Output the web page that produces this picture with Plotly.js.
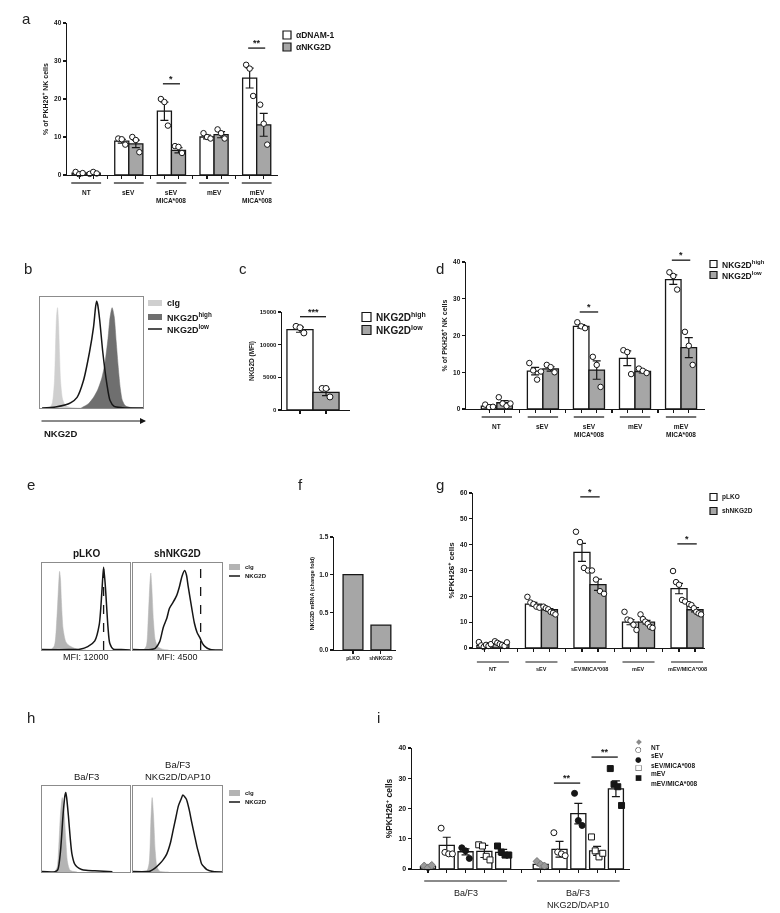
<!DOCTYPE html>
<html>
<head>
<meta charset="utf-8">
<script src="https://cdn.plot.ly/plotly-3.0.1.min.js"></script>
<style>
  body { margin: 0; background: #fff; }
  #fig { width: 780px; height: 913px; will-change: transform; }
</style>
</head>
<body>
<div id="fig"></div>
<script>
// ---------- data ----------
let groupNames = ['NT', 'sEV', 'sEV<br>MICA*008', 'mEV', 'mEV<br>MICA*008'];
let groupNamesG = ['NT', 'sEV', 'sEV/MICA*008', 'mEV', 'mEV/MICA*008'];

// a: blocking antibodies
let a_dnam_mean = [0.5, 8.9, 16.8, 10.0, 25.5];
let a_dnam_sem = [0.2, 0.5, 2.4, 0.5, 2.6];
let a_dnam_pts = [[0.8, 0.2, 0.5], [9.6, 9.4, 8.0], [20.0, 19.2, 13.0], [11.0, 10.0, 9.6], [29.0, 28.0, 20.8]];
let a_nkg_mean = [0.5, 8.2, 6.5, 10.6, 13.2];
let a_nkg_sem = [0.2, 1.0, 0.7, 0.8, 3.0];
let a_nkg_pts = [[0.3, 0.8, 0.4], [10.0, 9.2, 6.0], [7.6, 7.4, 5.8], [12.0, 11.0, 9.6], [18.5, 13.5, 8.0]];
let a_sig_group = [2, 4];
let a_sig_y = [24, 33.4];
let a_sig_label = ['*', '**'];

// b: histograms (x = fluorescence channel 0-100, y = % of max)
let b_cig_x = [5, 10, 12, 14, 15, 16, 17, 18, 19, 20, 22, 25, 30, 40];
let b_cig_y = [0, 1, 5, 25, 55, 85, 94, 80, 50, 25, 8, 2, 0.5, 0];
let b_high_x = [40, 47, 52, 56, 60, 63, 66, 68, 70, 72, 74, 76, 78, 80, 83, 88, 100];
let b_high_y = [0, 4, 10, 17, 28, 42, 65, 85, 94, 86, 62, 38, 18, 7, 2, 0.5, 0];
let b_low_x = [2, 15, 25, 30, 36, 42, 48, 52, 54, 55, 56, 58, 61, 65, 68, 72, 80, 100];
let b_low_y = [0, 1, 3, 5, 10, 25, 52, 76, 95, 100, 97, 82, 52, 22, 7, 1.5, 0.3, 0];

// c: NKG2D MFI
let c_mean = [12300, 2700];
let c_sem = [400, 500];
let c_pts = [[12800, 12600, 11800], [3300, 3300, 2000]];

// d: NKG2D high / low
let d_high_mean = [0.8, 10.3, 22.5, 13.8, 35.2];
let d_high_sem = [0.3, 1.0, 0.5, 2.0, 1.3];
let d_high_pts = [[1.2, 0.5, 0.6], [12.5, 10.5, 8.0, 10.2], [23.6, 22.5, 22.0], [16.0, 15.5, 9.5], [37.2, 36.2, 32.5]];
let d_low_mean = [1.7, 10.9, 10.6, 10.2, 16.7];
let d_low_sem = [0.6, 0.6, 2.5, 0.4, 2.7];
let d_low_pts = [[3.2, 1.5, 0.8, 1.5], [12.0, 11.4, 10.0], [14.2, 12.0, 6.0], [11.0, 10.4, 9.8], [21.0, 17.2, 12.0]];
let d_sig_group = [2, 4];
let d_sig_y = [26.4, 40.5];

// e: pLKO / shNKG2D histograms
let e1_cig_x = [0, 10, 14, 17, 19, 20, 21, 22, 24, 27, 30, 35, 40, 50];
let e1_cig_y = [0, 0.5, 5, 40, 80, 94, 85, 60, 25, 10, 6, 3, 1, 0];
let e1_nk_x = [0, 30, 43, 52, 60, 65, 68, 70, 72, 75, 77, 81, 90, 100];
let e1_nk_y = [0.5, 0.5, 1, 4, 11, 30, 69, 99, 76, 27, 8, 1, 0.5, 0];
let e2_cig_x = [0, 12, 15, 17, 19, 20, 21, 23, 25, 28, 33, 40];
let e2_cig_y = [0, 0.5, 5, 35, 80, 92, 78, 35, 12, 4, 1, 0];
let e2_nk_x = [0, 20, 25, 30, 34, 38, 41, 45, 49, 52, 55, 58, 60, 62, 66, 69, 72, 75, 78, 81, 87, 100];
let e2_nk_y = [0.5, 0.5, 2, 10, 27, 38, 50, 57, 65, 75, 88, 95, 90, 76, 50, 32, 21, 15, 8, 4, 0.5, 0];
let e_mfi_pos = [70, 76];
let e_titles = ['pLKO', 'shNKG2D'];
let e_mfi = ['MFI: 12000', 'MFI: 4500'];

// f: mRNA
let f_cats = ['pLKO', 'shNKG2D'];
let f_vals = [1.0, 0.33];

// g: pLKO / shNKG2D uptake
let g_plko_mean = [1.0, 17.0, 37.0, 10.0, 23.0];
let g_plko_sem = [0.3, 0.7, 3.5, 1.0, 2.0];
let g_plko_pts = [[2.3, 1.0, 0.4, 1.2, 0.8, 1.5], [19.8, 17.6, 17.0, 16.0, 15.6], [45.0, 41.0, 31.0, 30.0], [14.0, 11.0, 10.6, 9.0, 7.0], [29.8, 25.5, 24.5, 18.6, 18.0]];
let g_sh_mean = [1.5, 14.8, 24.5, 10.0, 14.8];
let g_sh_sem = [0.3, 0.5, 2.2, 0.7, 0.8];
let g_sh_pts = [[2.6, 2.0, 1.5, 1.2, 0.8, 2.2], [16.0, 15.4, 15.0, 14.0, 13.6, 13.0], [30.0, 26.5, 22.0, 21.0], [13.0, 11.2, 10.2, 9.4, 8.2, 7.8], [17.0, 16.6, 15.4, 14.0, 13.4, 13.0]];
let g_sig_group = [2, 4];
let g_sig_y = [58.5, 40.3];

// h: Ba/F3 histograms
let h1_cig_x = [0, 14, 17, 19, 21, 23, 25, 27, 29, 32, 40];
let h1_cig_y = [0, 0.5, 5, 30, 70, 90, 75, 40, 12, 2, 0];
let h1_nk_x = [0, 15, 18, 21, 24, 26, 27, 28, 30, 32, 34, 37, 40, 45, 50, 60, 70, 80];
let h1_nk_y = [0.5, 0.5, 3, 25, 70, 92, 96, 90, 68, 42, 22, 10, 6, 3, 2, 1.5, 1, 0.3];
let h2_cig_x = [0, 15, 18, 20, 21.5, 23, 25, 27, 30, 40];
let h2_cig_y = [0, 0.5, 10, 60, 90, 70, 25, 6, 1, 0];
let h2_nk_x = [0, 15, 19, 24, 30, 34, 38, 42, 45, 48, 51, 54, 56, 58, 60, 63, 66, 69, 72, 75, 77, 80, 83, 90, 100];
let h2_nk_y = [0.5, 0.5, 1, 4, 10, 15, 22, 35, 50, 65, 80, 88, 93, 91, 88, 76, 60, 45, 30, 18, 10, 6, 3, 0.5, 0];
let h_titles = ['Ba/F3', 'Ba/F3<br>NKG2D/DAP10'];

// i: Ba/F3 vs Ba/F3 NKG2D/DAP10
let i_conds = ['NT', 'sEV', 'sEV/MICA*008', 'mEV', 'mEV/MICA*008'];
let i_cells = ['Ba/F3', 'Ba/F3<br>NKG2D/DAP10'];
let i_baf3_mean = [0.8, 7.8, 5.7, 5.8, 5.5];
let i_baf3_sem = [0.3, 2.7, 1.0, 2.0, 1.0];
let i_baf3_pts = [[1.0, 0.4, 1.2], [13.5, 5.5, 5.0, 5.0], [7.0, 6.0, 3.5], [8.0, 7.6, 4.2, 3.0], [7.6, 5.6, 4.6, 4.6]];
let i_dap_mean = [1.5, 6.5, 18.3, 6.0, 26.5];
let i_dap_sem = [0.4, 2.6, 3.4, 1.5, 2.6];
let i_dap_pts = [[2.5, 1.5, 1.0], [12.0, 5.6, 5.0, 4.4], [25.0, 16.0, 14.4], [10.6, 6.0, 4.0, 5.2], [33.2, 28.0, 27.2, 21.0]];
let i_sig_pairs = [[7, 8], [9, 10]];
let i_sig_y = [28.4, 37.0];

// ---------- drawing ----------
let W = 780, H = 913;
let FONT = 'Liberation Sans, Arial, sans-serif';
let INK = '#161616';
let GRAY = '#a6a6a6';
let traces = [];
let shapes = [];
let annotations = [];
let layout = {
    width: W, height: H,
    margin: {l: 0, r: 0, t: 0, b: 0},
    showlegend: false,
    barmode: 'overlay',
    paper_bgcolor: '#fff',
    plot_bgcolor: 'rgba(0,0,0,0)',
    font: {family: FONT, color: INK}
};

function sfx(n) { return n === 1 ? '' : String(n); }
function px(x) { return x / W; }
function py(y) { return 1 - y / H; }

// box = [left, right, top, bottom] in pixels
function barAxes(n, box, xRange, xTicks, yRange, yStep, yTitle, tickSize, titleSize, extra) {
    let s = sfx(n);
    let yv = [];
    for (let v = yRange[0]; v <= yRange[1] + 1e-9; v += yStep) yv.push(v);
    layout['xaxis' + s] = Object.assign({
        domain: [px(box[0]), px(box[1])], anchor: 'y' + s, range: xRange,
        showline: true, linecolor: INK, linewidth: 1.4,
        ticks: 'outside', ticklen: 3, tickwidth: 1.1, tickcolor: INK,
        tickvals: xTicks, showticklabels: false, showgrid: false, zeroline: false
    }, (extra && extra.x) || {});
    layout['yaxis' + s] = Object.assign({
        domain: [py(box[3]), py(box[2])], anchor: 'x' + s, range: yRange,
        showline: true, linecolor: INK, linewidth: 1.4,
        ticks: 'outside', ticklen: 3, tickwidth: 1.1, tickcolor: INK,
        tickvals: yv, tickfont: {size: tickSize, weight: 'bold'},
        showgrid: false, zeroline: false,
        title: {text: yTitle, font: {size: titleSize, weight: 'bold'}, standoff: 4}
    }, (extra && extra.y) || {});
}

function addDots(n, xs, pts, barW, sty) {
    let s = sfx(n);
    let dx = [], dy = [];
    pts.forEach(function (p, i) {
        let step = Math.min(barW * 0.25, barW * 0.75 / Math.max(p.length - 1, 1));
        p.forEach(function (v, j) {
            dx.push(xs[i] + (j - (p.length - 1) / 2) * step);
            dy.push(v);
        });
    });
    traces.push({
        type: 'scatter', mode: 'markers', x: dx, y: dy, xaxis: 'x' + s, yaxis: 'y' + s,
        marker: {symbol: sty.symbol, size: sty.size || 5.5, color: sty.color, line: {color: sty.line || INK, width: 1}},
        cliponaxis: false, hoverinfo: 'skip'
    });
}

function bars(n, xs, mean, sem, fill, barW) {
    let s = sfx(n);
    traces.push({
        type: 'bar', x: xs, y: mean, width: barW, xaxis: 'x' + s, yaxis: 'y' + s,
        marker: {color: fill, line: {color: INK, width: 1.3}},
        error_y: sem ? {type: 'data', array: sem, color: INK, thickness: 1.2, width: 4} : {visible: false},
        hoverinfo: 'skip'
    });
}

function groupedBars(n, series, barW) {
    series.forEach(function (ser, k) {
        let off = (k - (series.length - 1) / 2) * barW;
        let xs = ser.mean.map(function (v, i) { return i + off; });
        bars(n, xs, ser.mean, ser.sem, ser.fill, barW);
        addDots(n, xs, ser.pts, barW, {symbol: 'circle', color: '#fff'});
    });
}

function groupTicks(count, barW) {
    let t = [];
    for (let i = 0; i < count; i++) {
        t.push(i - barW / 2, i + barW / 2);
        if (i < count - 1) t.push(i + 0.5);
    }
    return t;
}

function sigMark(n, x0, x1, yv, ymax, label, size) {
    let s = sfx(n);
    let f = yv / ymax;
    shapes.push({type: 'line', xref: 'x' + s, yref: 'y' + s + ' domain', x0: x0, x1: x1, y0: f, y1: f,
        line: {color: INK, width: 1.3}});
    annotations.push({xref: 'x' + s, yref: 'y' + s + ' domain', x: (x0 + x1) / 2, y: f, yanchor: 'bottom',
        text: label, showarrow: false, yshift: -2, font: {size: size || 9, weight: 'bold'}});
}

function groupLabels(n, hPx, centers, labels, half, lineDy, textDy, size, weight) {
    let s = sfx(n);
    centers.forEach(function (c, i) {
        shapes.push({type: 'line', xref: 'x' + s, yref: 'y' + s + ' domain', x0: c - half, x1: c + half,
            y0: -lineDy / hPx, y1: -lineDy / hPx, line: {color: INK, width: 1.2}});
        annotations.push({xref: 'x' + s, yref: 'y' + s + ' domain', x: c, y: -textDy / hPx, yanchor: 'top',
            text: labels[i], showarrow: false, font: {size: size, weight: weight || 'bold'}});
    });
}

function histAxes(n, box) {
    let s = sfx(n);
    let common = {showline: true, mirror: true, linecolor: '#8c8c8c', linewidth: 1,
        showticklabels: false, ticks: '', showgrid: false, zeroline: false};
    layout['xaxis' + s] = Object.assign({domain: [px(box[0]), px(box[1])], anchor: 'y' + s, range: [0, 100]}, common);
    layout['yaxis' + s] = Object.assign({domain: [py(box[3]), py(box[2])], anchor: 'x' + s, range: [0, 104]}, common);
}

function histFill(n, x, y, color) {
    let s = sfx(n);
    traces.push({type: 'scatter', mode: 'lines', x: x, y: y, xaxis: 'x' + s, yaxis: 'y' + s,
        fill: 'tozeroy', fillcolor: color, line: {color: color, width: 0.5, shape: 'spline', smoothing: 0.7},
        hoverinfo: 'skip'});
}

function histLine(n, x, y) {
    let s = sfx(n);
    traces.push({type: 'scatter', mode: 'lines', x: x, y: y, xaxis: 'x' + s, yaxis: 'y' + s,
        line: {color: INK, width: 1.5, shape: 'spline', smoothing: 0.7}, hoverinfo: 'skip'});
}

function legendBox(x, y, size, fill) {
    shapes.push({type: 'rect', xref: 'paper', yref: 'paper', x0: px(x), x1: px(x + size),
        y0: py(y + size / 2), y1: py(y - size / 2), fillcolor: fill, line: {color: INK, width: 1.2}});
}
function legendSwatch(x, y, w, h, fill) {
    shapes.push({type: 'rect', xref: 'paper', yref: 'paper', x0: px(x), x1: px(x + w),
        y0: py(y + h / 2), y1: py(y - h / 2), fillcolor: fill, line: {width: 0}});
}
function legendLine(x, y, w) {
    shapes.push({type: 'line', xref: 'paper', yref: 'paper', x0: px(x), x1: px(x + w),
        y0: py(y), y1: py(y), line: {color: INK, width: 1.5}});
}
function text(x, y, str, size, opts) {
    annotations.push(Object.assign({xref: 'paper', yref: 'paper', x: px(x), y: py(y), xanchor: 'left', yanchor: 'middle',
        text: str, showarrow: false, borderpad: 0, font: {size: size, weight: 'bold'}}, opts || {}));
}

// ---- panel a ----
let aW = 0.33;
barAxes(1, [67, 278, 23, 175], [-0.45, 4.5], groupTicks(5, aW), [0, 40], 10,
    '% of PKH26<sup>+</sup> NK cells', 6.5, 7);
groupedBars(1, [
    {mean: a_dnam_mean, sem: a_dnam_sem, pts: a_dnam_pts, fill: '#fff'},
    {mean: a_nkg_mean, sem: a_nkg_sem, pts: a_nkg_pts, fill: GRAY}
], aW);
a_sig_group.forEach(function (g, k) { sigMark(1, g - 0.2, g + 0.2, a_sig_y[k], 40, a_sig_label[k]); });
groupLabels(1, 152, [0, 1, 2, 3, 4], groupNames, 0.35, 8, 12, 6.5);
legendBox(283, 35, 8, '#fff');
legendBox(283, 47, 8, GRAY);
text(295, 35, 'αDNAM-1', 8.5);
text(295, 47, 'αNKG2D', 8.5);

// ---- panel b ----
histAxes(2, [40, 143, 297, 408]);
histFill(2, b_cig_x, b_cig_y, '#cfcfcf');
histFill(2, b_high_x, b_high_y, '#6f6f6f');
histLine(2, b_low_x, b_low_y);
legendSwatch(148, 303, 14, 6, '#cfcfcf');
legendSwatch(148, 317, 14, 6, '#6f6f6f');
legendLine(148, 329, 14);
text(166, 303, 'cIg', 9);
text(166, 317, 'NKG2D<sup>high</sup>', 9);
text(166, 329, 'NKG2D<sup>low</sup>', 9);
text(43, 433, 'NKG2D', 9.5);
annotations.push({xref: 'paper', yref: 'paper', x: px(146), y: py(421), ax: -106, ay: 0,
    text: '', showarrow: true, arrowhead: 2, arrowsize: 1.2, arrowwidth: 1, arrowcolor: INK});

// ---- panel c ----
barAxes(3, [282, 350, 312, 410], [-0.69, 1.92], [0, 1], [0, 15000], 5000, 'NKG2D (MFI)', 6, 6.5,
    {y: {tickformat: 'd'}});
bars(3, [0, 1], c_mean, c_sem, ['#fff', GRAY], 1.0);
addDots(3, [0, 1], c_pts, 0.6, {symbol: 'circle', color: '#fff', size: 6});
sigMark(3, 0, 1, 14280, 15000, '***');
legendBox(362, 317, 9, '#fff');
legendBox(362, 330, 9, GRAY);
text(375, 317, 'NKG2D<sup>high</sup>', 10);
text(375, 330, 'NKG2D<sup>low</sup>', 10);

// ---- panel d ----
let dW = 0.337;
barAxes(4, [466, 705, 262, 409], [-0.67, 4.52], groupTicks(5, dW), [0, 40], 10,
    '% of PKH26<sup>+</sup> NK cells', 6.5, 7);
groupedBars(4, [
    {mean: d_high_mean, sem: d_high_sem, pts: d_high_pts, fill: '#fff'},
    {mean: d_low_mean, sem: d_low_sem, pts: d_low_pts, fill: GRAY}
], dW);
d_sig_group.forEach(function (g, k) { sigMark(4, g - 0.2, g + 0.2, d_sig_y[k], 40, '*'); });
groupLabels(4, 147, [0, 1, 2, 3, 4], groupNames, 0.33, 8, 12, 6.5);
legendBox(710, 264, 7, '#fff');
legendBox(710, 275, 7, GRAY);
text(721, 264, 'NKG2D<sup>high</sup>', 8.5);
text(721, 275, 'NKG2D<sup>low</sup>', 8.5);

// ---- panel e ----
histAxes(5, [42, 130, 563, 650]);
histAxes(6, [133, 222, 563, 650]);
histFill(5, e1_cig_x, e1_cig_y, '#b4b4b4');
histLine(5, e1_nk_x, e1_nk_y);
histFill(6, e2_cig_x, e2_cig_y, '#b4b4b4');
histLine(6, e2_nk_x, e2_nk_y);
[5, 6].forEach(function (n, k) {
    let s = sfx(n);
    shapes.push({type: 'line', xref: 'x' + s, yref: 'y' + s + ' domain', x0: e_mfi_pos[k], x1: e_mfi_pos[k],
        y0: 0, y1: 1, line: {color: INK, width: 1.3, dash: 'dash'}});
    annotations.push({xref: 'x' + s + ' domain', yref: 'paper', x: 0.5, y: py(553), text: e_titles[k],
        showarrow: false, font: {size: 10, weight: 'bold'}});
    annotations.push({xref: 'x' + s + ' domain', yref: 'paper', x: 0.5, y: py(664), text: e_mfi[k],
        showarrow: false, font: {size: 9}});
});
legendSwatch(229, 567, 11, 6, '#b4b4b4');
legendLine(229, 576, 11);
text(244, 567, 'cIg', 6);
text(244, 576, 'NKG2D', 6);

// ---- panel f ----
barAxes(7, [334, 396, 537, 650], [-0.68, 1.54], [0, 1], [0, 1.5], 0.5, 'NKG2D mRNA (change fold)', 6.5, 5.5,
    {x: {showticklabels: true, ticktext: f_cats, tickfont: {size: 5, weight: 'bold'}}, y: {tickformat: '.1f'}});
bars(7, [0, 1], f_vals, null, GRAY, 0.71);

// ---- panel g ----
let gW = 0.33;
barAxes(8, [473, 705, 493, 648], [-0.41, 4.37], groupTicks(5, gW), [0, 60], 10,
    '%PKH26<sup>+</sup> cells', 6.5, 8);
groupedBars(8, [
    {mean: g_plko_mean, sem: g_plko_sem, pts: g_plko_pts, fill: '#fff'},
    {mean: g_sh_mean, sem: g_sh_sem, pts: g_sh_pts, fill: GRAY}
], gW);
g_sig_group.forEach(function (g, k) { sigMark(8, g - 0.2, g + 0.2, g_sig_y[k], 60, '*'); });
groupLabels(8, 155, [0, 1, 2, 3, 4], groupNamesG, 0.33, 14, 16, 5.5);
legendBox(710, 497, 7, '#fff');
legendBox(710, 511, 7, GRAY);
text(721, 497, 'pLKO', 6.5);
text(721, 511, 'shNKG2D', 6.5);

// ---- panel h ----
histAxes(9, [42, 130, 786, 872]);
histAxes(10, [133, 222, 786, 872]);
histFill(9, h1_cig_x, h1_cig_y, '#b4b4b4');
histLine(9, h1_nk_x, h1_nk_y);
histFill(10, h2_cig_x, h2_cig_y, '#b4b4b4');
histLine(10, h2_nk_x, h2_nk_y);
[9, 10].forEach(function (n, k) {
    annotations.push({xref: 'x' + sfx(n) + ' domain', yref: 'paper', x: 0.5, y: py(784), yanchor: 'bottom',
        text: h_titles[k], showarrow: false, font: {size: 9.5}});
});
legendSwatch(229, 793, 11, 6, '#b4b4b4');
legendLine(229, 802, 11);
text(244, 793, 'cIg', 6);
text(244, 802, 'NKG2D', 6);

// ---- panel i ----
let iSym = ['diamond', 'circle', 'circle', 'square', 'square'];
let iFill = ['#9a9a9a', '#fff', INK, '#fff', INK];
let iLine = ['#777', INK, INK, INK, INK];
let iGlyph = ['◆', '○', '●', '□', '■'];
let iTicks = [];
for (let k = 0; k <= 10; k++) iTicks.push(k);
barAxes(11, [412, 630, 748, 869], [-0.85, 10.75], iTicks, [0, 40], 10, '%PKH26<sup>+</sup> cells', 7, 8.5);
[[i_baf3_mean, i_baf3_sem, i_baf3_pts], [i_dap_mean, i_dap_sem, i_dap_pts]].forEach(function (grp, gi) {
    let xs = grp[0].map(function (v, k) { return gi * 6 + k; });
    bars(11, xs, grp[0], grp[1], '#fff', 0.8);
    xs.forEach(function (x, k) {
        addDots(11, [x], [grp[2][k]], 0.8, {symbol: iSym[k], color: iFill[k], line: iLine[k], size: 6});
    });
});
i_sig_pairs.forEach(function (p, k) { sigMark(11, p[0] - 0.3, p[1] + 0.1, i_sig_y[k], 40, '**'); });
groupLabels(11, 121, [2, 8], i_cells, 2.2, 12, 17, 9, 'normal');
let iLegY = [747, 755, 765, 773, 783];
i_conds.forEach(function (c, k) {
    annotations.push({xref: 'paper', yref: 'paper', x: px(643), y: py(iLegY[k]), text: iGlyph[k], showarrow: false,
        borderpad: 0, font: {family: 'DejaVu Sans', size: 7.5, color: k === 0 ? '#8a8a8a' : INK}});
    text(650, iLegY[k], c, 6.5);
});

// ---- panel letters ----
let letters = ['a', 'b', 'c', 'd', 'e', 'f', 'g', 'h', 'i'];
let letterX = [20, 22, 237, 440, 25, 300, 440, 25, 378];
let letterY = [8, 258, 258, 258, 484, 484, 485, 728, 728];
letters.forEach(function (l, k) {
    annotations.push({xref: 'paper', yref: 'paper', x: px(letterX[k]), y: py(letterY[k]), text: l,
        showarrow: false, font: {size: 15, color: '#222'}});
});

layout.shapes = shapes;
layout.annotations = annotations;
Plotly.newPlot('fig', traces, layout, {displayModeBar: false, staticPlot: true});
</script>
</body>
</html>
